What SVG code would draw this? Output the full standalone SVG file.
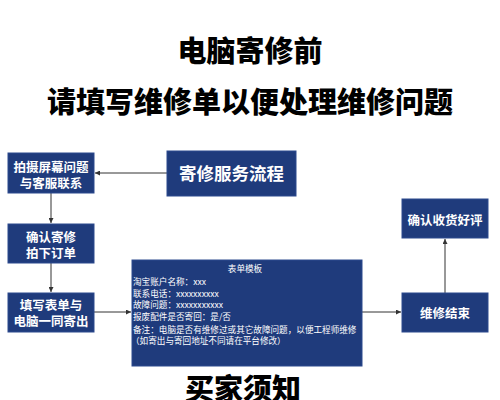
<svg xmlns="http://www.w3.org/2000/svg" width="500" height="400" viewBox="0 0 500 400">
<defs>
<style>
.box{fill:#1f3b7c;stroke:#2c4a8e;stroke-width:1}
.bt{fill:#fff;font-family:"Noto Sans CJK SC","Noto Sans",sans-serif;font-weight:bold;text-anchor:middle}
.ft{fill:#fff;font-family:"Noto Sans CJK SC","Noto Sans",sans-serif;font-size:8.6px}
.title{fill:#000;font-family:"Noto Sans CJK SC","Noto Sans",sans-serif;font-weight:900;text-anchor:middle;font-size:29px}
.conn{stroke:#333;stroke-width:1;fill:none;marker-end:url(#ah)}
</style>
<marker id="ah" viewBox="0 0 6 6" refX="6" refY="3" markerWidth="5" markerHeight="5" orient="auto" markerUnits="userSpaceOnUse">
<path d="M0,0 L6,3 L0,6 z" fill="#333"/>
</marker>
</defs>
<rect width="500" height="400" fill="#fff"/>
<g id="titles">
<text class="title" x="250" y="62">电脑寄修前</text>
<text class="title" x="250" y="113" font-size="30">请填写维修单以便处理维修问题</text>
<text class="title" x="243" y="400" font-size="30">买家须知</text>
</g>
<g id="connectors">
<line class="conn" x1="167" y1="173" x2="95" y2="173"/>
<line class="conn" x1="51" y1="193" x2="51" y2="223"/>
<line class="conn" x1="51" y1="263" x2="51" y2="292"/>
<line class="conn" x1="94" y1="312" x2="131" y2="312"/>
<line class="conn" x1="362" y1="312" x2="401" y2="312"/>
<line class="conn" x1="445" y1="293" x2="445" y2="239"/>
</g>
<g id="n-process">
<rect class="box" x="167" y="151" width="129" height="45"/>
<text class="bt" x="231.5" y="179.5" font-size="17.5">寄修服务流程</text>
</g>
<g id="n-photo">
<rect class="box" x="8" y="153" width="86" height="40"/>
<text class="bt" x="51" y="171.5" font-size="12.5"><tspan x="51">拍摄屏幕问题</tspan><tspan x="51" dy="16">与客服联系</tspan></text>
</g>
<g id="n-confirm">
<rect class="box" x="8" y="224" width="86" height="39"/>
<text class="bt" x="51" y="241.5" font-size="12.5"><tspan x="51">确认寄修</tspan><tspan x="51" dy="16">拍下订单</tspan></text>
</g>
<g id="n-fill">
<rect class="box" x="8" y="293" width="86" height="39"/>
<text class="bt" x="51" y="309.5" font-size="12.5"><tspan x="51">填写表单与</tspan><tspan x="51" dy="16">电脑一同寄出</tspan></text>
</g>
<g id="n-form">
<rect class="box" x="132" y="260" width="230" height="106"/>
<text class="ft" x="245" y="272" text-anchor="middle">表单模板</text>
<text class="ft" x="133" y="285">淘宝账户名称：xxx</text>
<text class="ft" x="133" y="296.5">联系电话：xxxxxxxxxx</text>
<text class="ft" x="133" y="308">故障问题：xxxxxxxxxxx</text>
<text class="ft" x="133" y="320">报废配件是否寄回：是/否</text>
<text class="ft" x="133" y="333">备注：电脑是否有维修过或其它故障问题，以便工程师维修</text>
<text class="ft" x="131" y="344">（如寄出与寄回地址不同请在平台修改）</text>
</g>
<g id="n-end">
<rect class="box" x="402" y="293" width="86" height="39"/>
<text class="bt" x="445" y="317.5" font-size="12.5">维修结束</text>
</g>
<g id="n-review">
<rect class="box" x="402" y="199" width="86" height="39"/>
<text class="bt" x="445" y="224.5" font-size="12.5">确认收货好评</text>
</g>
</svg>
